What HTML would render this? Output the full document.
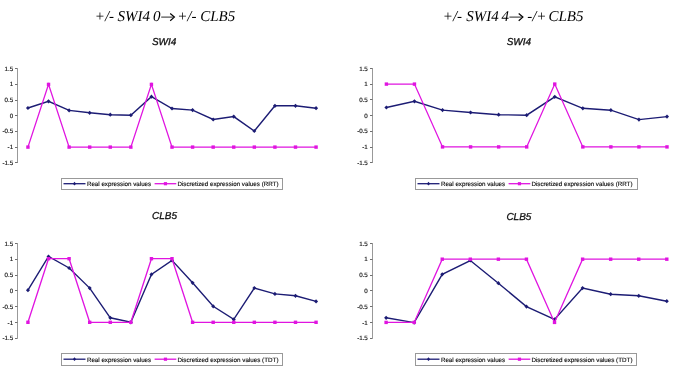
<!DOCTYPE html>
<html><head><meta charset="utf-8"><style>
html,body{margin:0;padding:0;background:#fff;}
body{width:685px;height:373px;overflow:hidden;}
svg{display:block;will-change:transform;}
text{text-rendering:geometricPrecision;}
.ax{font-family:"Liberation Sans",sans-serif;font-size:6.2px;fill:#111;stroke:#111;stroke-width:0.15px;}
.lg{font-family:"Liberation Sans",sans-serif;font-size:6.2px;fill:#111;stroke:#111;stroke-width:0.15px;}
.st{font-family:"Liberation Sans",sans-serif;font-size:10px;font-style:italic;fill:#111;stroke:#111;stroke-width:0.3px;}
.tt{font-family:"Liberation Serif",serif;font-size:15px;font-style:italic;fill:#000;}
.ar{font-family:"Liberation Serif",serif;font-size:14px;fill:#000;}
</style></head><body>
<svg width="685" height="373" viewBox="0 0 685 373">
<line x1="17.5" y1="68.4" x2="17.5" y2="163.0" stroke="#999999" stroke-width="1"/>
<line x1="15.0" y1="68.50" x2="17.5" y2="68.50" stroke="#707070" stroke-width="1"/>
<text x="13.1" y="70.60" text-anchor="end" class="ax">1.5</text>
<line x1="15.0" y1="84.50" x2="17.5" y2="84.50" stroke="#707070" stroke-width="1"/>
<text x="13.1" y="86.30" text-anchor="end" class="ax">1</text>
<line x1="15.0" y1="100.50" x2="17.5" y2="100.50" stroke="#707070" stroke-width="1"/>
<text x="13.1" y="102.00" text-anchor="end" class="ax">0.5</text>
<line x1="15.0" y1="115.50" x2="17.5" y2="115.50" stroke="#707070" stroke-width="1"/>
<text x="13.1" y="117.70" text-anchor="end" class="ax">0</text>
<line x1="15.0" y1="131.50" x2="17.5" y2="131.50" stroke="#707070" stroke-width="1"/>
<text x="13.1" y="133.40" text-anchor="end" class="ax">-0.5</text>
<line x1="15.0" y1="147.50" x2="17.5" y2="147.50" stroke="#707070" stroke-width="1"/>
<text x="13.1" y="149.10" text-anchor="end" class="ax">-1</text>
<line x1="15.0" y1="162.50" x2="17.5" y2="162.50" stroke="#707070" stroke-width="1"/>
<text x="13.1" y="164.80" text-anchor="end" class="ax">-1.5</text>
<polyline points="27.95,108.00 48.53,101.30 69.11,110.40 89.69,112.80 110.27,114.70 130.85,115.20 151.43,96.70 172.01,108.50 192.59,110.10 213.17,119.50 233.75,116.60 254.33,131.00 274.91,105.80 295.49,105.80 316.07,108.20" fill="none" stroke="#1C1C74" stroke-width="1.4" stroke-linejoin="miter"/>
<path d="M27.95,105.90 L29.95,108.00 L27.95,110.10 L25.95,108.00 Z" fill="#1C1C74"/>
<path d="M48.53,99.20 L50.53,101.30 L48.53,103.40 L46.53,101.30 Z" fill="#1C1C74"/>
<path d="M69.11,108.30 L71.11,110.40 L69.11,112.50 L67.11,110.40 Z" fill="#1C1C74"/>
<path d="M89.69,110.70 L91.69,112.80 L89.69,114.90 L87.69,112.80 Z" fill="#1C1C74"/>
<path d="M110.27,112.60 L112.27,114.70 L110.27,116.80 L108.27,114.70 Z" fill="#1C1C74"/>
<path d="M130.85,113.10 L132.85,115.20 L130.85,117.30 L128.85,115.20 Z" fill="#1C1C74"/>
<path d="M151.43,94.60 L153.43,96.70 L151.43,98.80 L149.43,96.70 Z" fill="#1C1C74"/>
<path d="M172.01,106.40 L174.01,108.50 L172.01,110.60 L170.01,108.50 Z" fill="#1C1C74"/>
<path d="M192.59,108.00 L194.59,110.10 L192.59,112.20 L190.59,110.10 Z" fill="#1C1C74"/>
<path d="M213.17,117.40 L215.17,119.50 L213.17,121.60 L211.17,119.50 Z" fill="#1C1C74"/>
<path d="M233.75,114.50 L235.75,116.60 L233.75,118.70 L231.75,116.60 Z" fill="#1C1C74"/>
<path d="M254.33,128.90 L256.33,131.00 L254.33,133.10 L252.33,131.00 Z" fill="#1C1C74"/>
<path d="M274.91,103.70 L276.91,105.80 L274.91,107.90 L272.91,105.80 Z" fill="#1C1C74"/>
<path d="M295.49,103.70 L297.49,105.80 L295.49,107.90 L293.49,105.80 Z" fill="#1C1C74"/>
<path d="M316.07,106.10 L318.07,108.20 L316.07,110.30 L314.07,108.20 Z" fill="#1C1C74"/>
<polyline points="27.95,147.10 48.53,84.40 69.11,147.10 89.69,147.10 110.27,147.10 130.85,147.10 151.43,84.40 172.01,147.10 192.59,147.10 213.17,147.10 233.75,147.10 254.33,147.10 274.91,147.10 295.49,147.10 316.07,147.10" fill="none" stroke="#E014E0" stroke-width="1.3" stroke-linejoin="miter"/>
<rect x="26.25" y="145.40" width="3.4" height="3.4" fill="#E014E0"/>
<rect x="46.83" y="82.70" width="3.4" height="3.4" fill="#E014E0"/>
<rect x="67.41" y="145.40" width="3.4" height="3.4" fill="#E014E0"/>
<rect x="87.99" y="145.40" width="3.4" height="3.4" fill="#E014E0"/>
<rect x="108.57" y="145.40" width="3.4" height="3.4" fill="#E014E0"/>
<rect x="129.15" y="145.40" width="3.4" height="3.4" fill="#E014E0"/>
<rect x="149.73" y="82.70" width="3.4" height="3.4" fill="#E014E0"/>
<rect x="170.31" y="145.40" width="3.4" height="3.4" fill="#E014E0"/>
<rect x="190.89" y="145.40" width="3.4" height="3.4" fill="#E014E0"/>
<rect x="211.47" y="145.40" width="3.4" height="3.4" fill="#E014E0"/>
<rect x="232.05" y="145.40" width="3.4" height="3.4" fill="#E014E0"/>
<rect x="252.63" y="145.40" width="3.4" height="3.4" fill="#E014E0"/>
<rect x="273.21" y="145.40" width="3.4" height="3.4" fill="#E014E0"/>
<rect x="293.79" y="145.40" width="3.4" height="3.4" fill="#E014E0"/>
<rect x="314.37" y="145.40" width="3.4" height="3.4" fill="#E014E0"/>
<line x1="372.5" y1="68.2" x2="372.5" y2="162.8" stroke="#999999" stroke-width="1"/>
<line x1="370.0" y1="68.50" x2="372.5" y2="68.50" stroke="#707070" stroke-width="1"/>
<text x="367.8" y="70.50" text-anchor="end" class="ax">1.5</text>
<line x1="370.0" y1="84.50" x2="372.5" y2="84.50" stroke="#707070" stroke-width="1"/>
<text x="367.8" y="86.20" text-anchor="end" class="ax">1</text>
<line x1="370.0" y1="99.50" x2="372.5" y2="99.50" stroke="#707070" stroke-width="1"/>
<text x="367.8" y="101.90" text-anchor="end" class="ax">0.5</text>
<line x1="370.0" y1="115.50" x2="372.5" y2="115.50" stroke="#707070" stroke-width="1"/>
<text x="367.8" y="117.60" text-anchor="end" class="ax">0</text>
<line x1="370.0" y1="131.50" x2="372.5" y2="131.50" stroke="#707070" stroke-width="1"/>
<text x="367.8" y="133.30" text-anchor="end" class="ax">-0.5</text>
<line x1="370.0" y1="147.50" x2="372.5" y2="147.50" stroke="#707070" stroke-width="1"/>
<text x="367.8" y="149.00" text-anchor="end" class="ax">-1</text>
<line x1="370.0" y1="162.50" x2="372.5" y2="162.50" stroke="#707070" stroke-width="1"/>
<text x="367.8" y="164.70" text-anchor="end" class="ax">-1.5</text>
<polyline points="386.40,107.50 414.46,101.30 442.52,110.10 470.58,112.50 498.64,114.70 526.70,115.20 554.76,96.80 582.82,108.30 610.88,110.20 638.94,119.60 667.00,116.60" fill="none" stroke="#1C1C74" stroke-width="1.4" stroke-linejoin="miter"/>
<path d="M386.40,105.40 L388.40,107.50 L386.40,109.60 L384.40,107.50 Z" fill="#1C1C74"/>
<path d="M414.46,99.20 L416.46,101.30 L414.46,103.40 L412.46,101.30 Z" fill="#1C1C74"/>
<path d="M442.52,108.00 L444.52,110.10 L442.52,112.20 L440.52,110.10 Z" fill="#1C1C74"/>
<path d="M470.58,110.40 L472.58,112.50 L470.58,114.60 L468.58,112.50 Z" fill="#1C1C74"/>
<path d="M498.64,112.60 L500.64,114.70 L498.64,116.80 L496.64,114.70 Z" fill="#1C1C74"/>
<path d="M526.70,113.10 L528.70,115.20 L526.70,117.30 L524.70,115.20 Z" fill="#1C1C74"/>
<path d="M554.76,94.70 L556.76,96.80 L554.76,98.90 L552.76,96.80 Z" fill="#1C1C74"/>
<path d="M582.82,106.20 L584.82,108.30 L582.82,110.40 L580.82,108.30 Z" fill="#1C1C74"/>
<path d="M610.88,108.10 L612.88,110.20 L610.88,112.30 L608.88,110.20 Z" fill="#1C1C74"/>
<path d="M638.94,117.50 L640.94,119.60 L638.94,121.70 L636.94,119.60 Z" fill="#1C1C74"/>
<path d="M667.00,114.50 L669.00,116.60 L667.00,118.70 L665.00,116.60 Z" fill="#1C1C74"/>
<polyline points="386.40,84.10 414.46,84.10 442.52,146.90 470.58,146.90 498.64,146.90 526.70,146.90 554.76,84.10 582.82,146.90 610.88,146.90 638.94,146.90 667.00,146.90" fill="none" stroke="#E014E0" stroke-width="1.3" stroke-linejoin="miter"/>
<rect x="384.70" y="82.40" width="3.4" height="3.4" fill="#E014E0"/>
<rect x="412.76" y="82.40" width="3.4" height="3.4" fill="#E014E0"/>
<rect x="440.82" y="145.20" width="3.4" height="3.4" fill="#E014E0"/>
<rect x="468.88" y="145.20" width="3.4" height="3.4" fill="#E014E0"/>
<rect x="496.94" y="145.20" width="3.4" height="3.4" fill="#E014E0"/>
<rect x="525.00" y="145.20" width="3.4" height="3.4" fill="#E014E0"/>
<rect x="553.06" y="82.40" width="3.4" height="3.4" fill="#E014E0"/>
<rect x="581.12" y="145.20" width="3.4" height="3.4" fill="#E014E0"/>
<rect x="609.18" y="145.20" width="3.4" height="3.4" fill="#E014E0"/>
<rect x="637.24" y="145.20" width="3.4" height="3.4" fill="#E014E0"/>
<rect x="665.30" y="145.20" width="3.4" height="3.4" fill="#E014E0"/>
<line x1="17.5" y1="243.3" x2="17.5" y2="338.5" stroke="#999999" stroke-width="1"/>
<line x1="15.0" y1="243.50" x2="17.5" y2="243.50" stroke="#707070" stroke-width="1"/>
<text x="13.1" y="245.50" text-anchor="end" class="ax">1.5</text>
<line x1="15.0" y1="259.50" x2="17.5" y2="259.50" stroke="#707070" stroke-width="1"/>
<text x="13.1" y="261.30" text-anchor="end" class="ax">1</text>
<line x1="15.0" y1="275.50" x2="17.5" y2="275.50" stroke="#707070" stroke-width="1"/>
<text x="13.1" y="277.10" text-anchor="end" class="ax">0.5</text>
<line x1="15.0" y1="290.50" x2="17.5" y2="290.50" stroke="#707070" stroke-width="1"/>
<text x="13.1" y="292.90" text-anchor="end" class="ax">0</text>
<line x1="15.0" y1="306.50" x2="17.5" y2="306.50" stroke="#707070" stroke-width="1"/>
<text x="13.1" y="308.70" text-anchor="end" class="ax">-0.5</text>
<line x1="15.0" y1="322.50" x2="17.5" y2="322.50" stroke="#707070" stroke-width="1"/>
<text x="13.1" y="324.50" text-anchor="end" class="ax">-1</text>
<line x1="15.0" y1="338.50" x2="17.5" y2="338.50" stroke="#707070" stroke-width="1"/>
<text x="13.1" y="340.30" text-anchor="end" class="ax">-1.5</text>
<polyline points="27.95,290.20 48.53,256.50 69.11,268.00 89.69,288.10 110.27,317.80 130.85,322.30 151.43,274.40 172.01,260.40 192.59,282.80 213.17,306.30 233.75,319.40 254.33,288.00 274.91,293.90 295.49,295.80 316.07,301.40" fill="none" stroke="#1C1C74" stroke-width="1.4" stroke-linejoin="miter"/>
<path d="M27.95,288.10 L29.95,290.20 L27.95,292.30 L25.95,290.20 Z" fill="#1C1C74"/>
<path d="M48.53,254.40 L50.53,256.50 L48.53,258.60 L46.53,256.50 Z" fill="#1C1C74"/>
<path d="M69.11,265.90 L71.11,268.00 L69.11,270.10 L67.11,268.00 Z" fill="#1C1C74"/>
<path d="M89.69,286.00 L91.69,288.10 L89.69,290.20 L87.69,288.10 Z" fill="#1C1C74"/>
<path d="M110.27,315.70 L112.27,317.80 L110.27,319.90 L108.27,317.80 Z" fill="#1C1C74"/>
<path d="M130.85,320.20 L132.85,322.30 L130.85,324.40 L128.85,322.30 Z" fill="#1C1C74"/>
<path d="M151.43,272.30 L153.43,274.40 L151.43,276.50 L149.43,274.40 Z" fill="#1C1C74"/>
<path d="M172.01,258.30 L174.01,260.40 L172.01,262.50 L170.01,260.40 Z" fill="#1C1C74"/>
<path d="M192.59,280.70 L194.59,282.80 L192.59,284.90 L190.59,282.80 Z" fill="#1C1C74"/>
<path d="M213.17,304.20 L215.17,306.30 L213.17,308.40 L211.17,306.30 Z" fill="#1C1C74"/>
<path d="M233.75,317.30 L235.75,319.40 L233.75,321.50 L231.75,319.40 Z" fill="#1C1C74"/>
<path d="M254.33,285.90 L256.33,288.00 L254.33,290.10 L252.33,288.00 Z" fill="#1C1C74"/>
<path d="M274.91,291.80 L276.91,293.90 L274.91,296.00 L272.91,293.90 Z" fill="#1C1C74"/>
<path d="M295.49,293.70 L297.49,295.80 L295.49,297.90 L293.49,295.80 Z" fill="#1C1C74"/>
<path d="M316.07,299.30 L318.07,301.40 L316.07,303.50 L314.07,301.40 Z" fill="#1C1C74"/>
<polyline points="27.95,322.30 48.53,258.70 69.11,258.70 89.69,322.30 110.27,322.30 130.85,322.30 151.43,258.70 172.01,258.70 192.59,322.30 213.17,322.30 233.75,322.30 254.33,322.30 274.91,322.30 295.49,322.30 316.07,322.30" fill="none" stroke="#E014E0" stroke-width="1.3" stroke-linejoin="miter"/>
<rect x="26.25" y="320.60" width="3.4" height="3.4" fill="#E014E0"/>
<rect x="46.83" y="257.00" width="3.4" height="3.4" fill="#E014E0"/>
<rect x="67.41" y="257.00" width="3.4" height="3.4" fill="#E014E0"/>
<rect x="87.99" y="320.60" width="3.4" height="3.4" fill="#E014E0"/>
<rect x="108.57" y="320.60" width="3.4" height="3.4" fill="#E014E0"/>
<rect x="129.15" y="320.60" width="3.4" height="3.4" fill="#E014E0"/>
<rect x="149.73" y="257.00" width="3.4" height="3.4" fill="#E014E0"/>
<rect x="170.31" y="257.00" width="3.4" height="3.4" fill="#E014E0"/>
<rect x="190.89" y="320.60" width="3.4" height="3.4" fill="#E014E0"/>
<rect x="211.47" y="320.60" width="3.4" height="3.4" fill="#E014E0"/>
<rect x="232.05" y="320.60" width="3.4" height="3.4" fill="#E014E0"/>
<rect x="252.63" y="320.60" width="3.4" height="3.4" fill="#E014E0"/>
<rect x="273.21" y="320.60" width="3.4" height="3.4" fill="#E014E0"/>
<rect x="293.79" y="320.60" width="3.4" height="3.4" fill="#E014E0"/>
<rect x="314.37" y="320.60" width="3.4" height="3.4" fill="#E014E0"/>
<line x1="372.5" y1="243.3" x2="372.5" y2="338.5" stroke="#999999" stroke-width="1"/>
<line x1="370.0" y1="243.50" x2="372.5" y2="243.50" stroke="#707070" stroke-width="1"/>
<text x="367.8" y="245.50" text-anchor="end" class="ax">1.5</text>
<line x1="370.0" y1="259.50" x2="372.5" y2="259.50" stroke="#707070" stroke-width="1"/>
<text x="367.8" y="261.30" text-anchor="end" class="ax">1</text>
<line x1="370.0" y1="275.50" x2="372.5" y2="275.50" stroke="#707070" stroke-width="1"/>
<text x="367.8" y="277.10" text-anchor="end" class="ax">0.5</text>
<line x1="370.0" y1="290.50" x2="372.5" y2="290.50" stroke="#707070" stroke-width="1"/>
<text x="367.8" y="292.90" text-anchor="end" class="ax">0</text>
<line x1="370.0" y1="306.50" x2="372.5" y2="306.50" stroke="#707070" stroke-width="1"/>
<text x="367.8" y="308.70" text-anchor="end" class="ax">-0.5</text>
<line x1="370.0" y1="322.50" x2="372.5" y2="322.50" stroke="#707070" stroke-width="1"/>
<text x="367.8" y="324.50" text-anchor="end" class="ax">-1</text>
<line x1="370.0" y1="338.50" x2="372.5" y2="338.50" stroke="#707070" stroke-width="1"/>
<text x="367.8" y="340.30" text-anchor="end" class="ax">-1.5</text>
<polyline points="386.10,317.80 414.17,322.60 442.24,274.30 470.31,260.50 498.38,283.20 526.45,306.60 554.52,319.40 582.59,288.10 610.66,294.20 638.73,295.80 666.80,301.20" fill="none" stroke="#1C1C74" stroke-width="1.4" stroke-linejoin="miter"/>
<path d="M386.10,315.70 L388.10,317.80 L386.10,319.90 L384.10,317.80 Z" fill="#1C1C74"/>
<path d="M414.17,320.50 L416.17,322.60 L414.17,324.70 L412.17,322.60 Z" fill="#1C1C74"/>
<path d="M442.24,272.20 L444.24,274.30 L442.24,276.40 L440.24,274.30 Z" fill="#1C1C74"/>
<path d="M470.31,258.40 L472.31,260.50 L470.31,262.60 L468.31,260.50 Z" fill="#1C1C74"/>
<path d="M498.38,281.10 L500.38,283.20 L498.38,285.30 L496.38,283.20 Z" fill="#1C1C74"/>
<path d="M526.45,304.50 L528.45,306.60 L526.45,308.70 L524.45,306.60 Z" fill="#1C1C74"/>
<path d="M554.52,317.30 L556.52,319.40 L554.52,321.50 L552.52,319.40 Z" fill="#1C1C74"/>
<path d="M582.59,286.00 L584.59,288.10 L582.59,290.20 L580.59,288.10 Z" fill="#1C1C74"/>
<path d="M610.66,292.10 L612.66,294.20 L610.66,296.30 L608.66,294.20 Z" fill="#1C1C74"/>
<path d="M638.73,293.70 L640.73,295.80 L638.73,297.90 L636.73,295.80 Z" fill="#1C1C74"/>
<path d="M666.80,299.10 L668.80,301.20 L666.80,303.30 L664.80,301.20 Z" fill="#1C1C74"/>
<polyline points="386.10,322.40 414.17,322.40 442.24,259.20 470.31,259.20 498.38,259.20 526.45,259.20 554.52,322.40 582.59,259.20 610.66,259.20 638.73,259.20 666.80,259.20" fill="none" stroke="#E014E0" stroke-width="1.3" stroke-linejoin="miter"/>
<rect x="384.40" y="320.70" width="3.4" height="3.4" fill="#E014E0"/>
<rect x="412.47" y="320.70" width="3.4" height="3.4" fill="#E014E0"/>
<rect x="440.54" y="257.50" width="3.4" height="3.4" fill="#E014E0"/>
<rect x="468.61" y="257.50" width="3.4" height="3.4" fill="#E014E0"/>
<rect x="496.68" y="257.50" width="3.4" height="3.4" fill="#E014E0"/>
<rect x="524.75" y="257.50" width="3.4" height="3.4" fill="#E014E0"/>
<rect x="552.82" y="320.70" width="3.4" height="3.4" fill="#E014E0"/>
<rect x="580.89" y="257.50" width="3.4" height="3.4" fill="#E014E0"/>
<rect x="608.96" y="257.50" width="3.4" height="3.4" fill="#E014E0"/>
<rect x="637.03" y="257.50" width="3.4" height="3.4" fill="#E014E0"/>
<rect x="665.10" y="257.50" width="3.4" height="3.4" fill="#E014E0"/>
<rect x="61.5" y="178.5" width="221.0" height="11.0" fill="#fff" stroke="#999999" stroke-width="1"/>
<line x1="63.5" y1="183.7" x2="85.5" y2="183.7" stroke="#1C1C74" stroke-width="1.3"/>
<path d="M74.5,181.79999999999998 L76.1,183.7 L74.5,185.6 L72.9,183.7 Z" fill="#1C1C74"/>
<text x="86.9" y="186.0" class="lg" textLength="64.3" lengthAdjust="spacingAndGlyphs">Real expression values</text>
<line x1="154.6" y1="183.7" x2="176.3" y2="183.7" stroke="#E014E0" stroke-width="1.3"/>
<rect x="163.85" y="182.1" width="3.2" height="3.2" fill="#E014E0"/>
<text x="177.4" y="186.0" class="lg" textLength="101.1" lengthAdjust="spacingAndGlyphs">Discretized expression values (RRT)</text>
<rect x="415.5" y="178.5" width="222.0" height="11.0" fill="#fff" stroke="#999999" stroke-width="1"/>
<line x1="417.5" y1="183.7" x2="439.5" y2="183.7" stroke="#1C1C74" stroke-width="1.3"/>
<path d="M428.5,181.79999999999998 L430.1,183.7 L428.5,185.6 L426.9,183.7 Z" fill="#1C1C74"/>
<text x="440.9" y="186.0" class="lg" textLength="64.3" lengthAdjust="spacingAndGlyphs">Real expression values</text>
<line x1="508.6" y1="183.7" x2="530.3" y2="183.7" stroke="#E014E0" stroke-width="1.3"/>
<rect x="517.85" y="182.1" width="3.2" height="3.2" fill="#E014E0"/>
<text x="531.4" y="186.0" class="lg" textLength="101.1" lengthAdjust="spacingAndGlyphs">Discretized expression values (RRT)</text>
<rect x="61.5" y="353.5" width="221.0" height="12.0" fill="#fff" stroke="#999999" stroke-width="1"/>
<line x1="63.5" y1="359.2" x2="85.5" y2="359.2" stroke="#1C1C74" stroke-width="1.3"/>
<path d="M74.5,357.3 L76.1,359.2 L74.5,361.09999999999997 L72.9,359.2 Z" fill="#1C1C74"/>
<text x="86.9" y="361.5" class="lg" textLength="64.3" lengthAdjust="spacingAndGlyphs">Real expression values</text>
<line x1="154.6" y1="359.2" x2="176.3" y2="359.2" stroke="#E014E0" stroke-width="1.3"/>
<rect x="163.85" y="357.59999999999997" width="3.2" height="3.2" fill="#E014E0"/>
<text x="177.4" y="361.5" class="lg" textLength="101.1" lengthAdjust="spacingAndGlyphs">Discretized expression values (TDT)</text>
<rect x="415.5" y="353.5" width="221.0" height="12.0" fill="#fff" stroke="#999999" stroke-width="1"/>
<line x1="417.5" y1="359.2" x2="439.5" y2="359.2" stroke="#1C1C74" stroke-width="1.3"/>
<path d="M428.5,357.3 L430.1,359.2 L428.5,361.09999999999997 L426.9,359.2 Z" fill="#1C1C74"/>
<text x="440.9" y="361.5" class="lg" textLength="64.3" lengthAdjust="spacingAndGlyphs">Real expression values</text>
<line x1="508.6" y1="359.2" x2="530.3" y2="359.2" stroke="#E014E0" stroke-width="1.3"/>
<rect x="517.85" y="357.59999999999997" width="3.2" height="3.2" fill="#E014E0"/>
<text x="531.4" y="361.5" class="lg" textLength="101.1" lengthAdjust="spacingAndGlyphs">Discretized expression values (TDT)</text>
<text x="151.9" y="44.6" class="st">SWI4</text>
<text x="506.7" y="44.6" class="st">SWI4</text>
<text x="152" y="219.3" class="st">CLB5</text>
<text x="506.4" y="219.7" class="st">CLB5</text>
<text x="94.8" y="20.7" class="tt">+/-</text>
<text x="117.6" y="20.7" class="tt">SWI4</text>
<text x="153.1" y="20.7" class="tt">0</text>
<line x1="161.2" y1="17.1" x2="173.4" y2="17.1" stroke="#3a3a3a" stroke-width="1.1"/>
<path d="M170.20000000000002,13.500000000000002 L174.4,17.1 L170.20000000000002,20.700000000000003" fill="none" stroke="#000" stroke-width="1.2"/>
<text x="177.2" y="20.7" class="tt">+/-</text>
<text x="200.2" y="20.7" class="tt">CLB5</text>
<text x="442.8" y="20.7" class="tt">+/-</text>
<text x="466.2" y="20.7" class="tt">SWI4</text>
<text x="501.6" y="20.7" class="tt">4</text>
<line x1="509.4" y1="17.1" x2="521.9" y2="17.1" stroke="#3a3a3a" stroke-width="1.1"/>
<path d="M518.6999999999999,13.500000000000002 L522.9,17.1 L518.6999999999999,20.700000000000003" fill="none" stroke="#000" stroke-width="1.2"/>
<text x="527.2" y="20.7" class="tt">-/+</text>
<text x="548.4" y="20.7" class="tt">CLB5</text>
</svg>
</body></html>
